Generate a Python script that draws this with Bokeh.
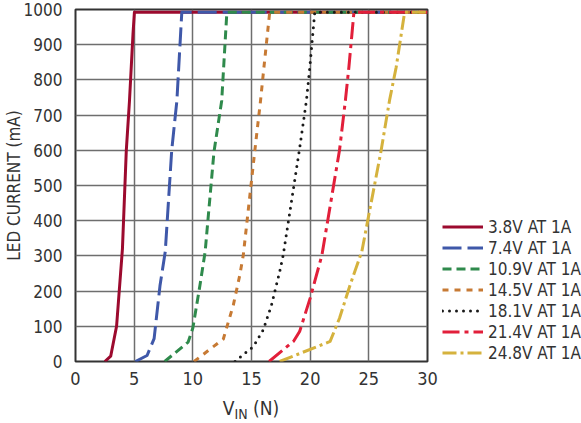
from bokeh.plotting import figure
from bokeh.models import Legend, LegendItem, Range1d, FixedTicker, Div
from bokeh.layouts import column, row
from bokeh.embed import file_html
from bokeh.resources import INLINE

FONT = "'DejaVu Sans Condensed', 'Liberation Sans', sans-serif"

labels = ["3.8V AT 1A", "7.4V AT 1A", "10.9V AT 1A", "14.5V AT 1A",
          "18.1V AT 1A", "21.4V AT 1A", "24.8V AT 1A"]

x_38 = [2.5, 3.0, 3.5, 4.0, 4.33, 4.6, 4.9, 5.02, 30]
y_38 = [0, 15, 100, 320, 600, 740, 930, 992, 992]

x_74 = [5.1, 6.1, 6.7, 7.2, 7.65, 8.2, 8.64, 9.06, 30]
y_74 = [0, 17, 65, 215, 312, 600, 741, 992, 992]

x_109 = [7.6, 9.6, 10.0, 10.6, 11.05, 11.8, 12.46, 12.9, 30]
y_109 = [0, 55, 95, 215, 312, 595, 741, 992, 992]

x_145 = [10.1, 12.6, 13.45, 14.0, 14.3, 15.3, 15.77, 16.06, 16.55, 30]
y_145 = [0, 64, 160, 245, 302, 604, 741, 836, 992, 992]

x_181 = [13.6, 14.2, 15.15, 16.0, 16.7, 17.4, 17.7, 19.1, 19.68, 19.97, 20.39, 30]
y_181 = [0, 17, 42, 90, 160, 255, 302, 605, 741, 836, 992, 992]

x_214 = [16.5, 18.6, 19.1, 20.0, 21.0, 22.5, 23.0, 23.3, 23.73, 30]
y_214 = [0, 58, 85, 180, 302, 600, 741, 836, 992, 992]

x_248 = [17.4, 21.7, 22.5, 23.4, 24.4, 26.05, 26.76, 27.33, 28.05, 30]
y_248 = [0, 57, 123, 217, 312, 600, 741, 836, 992, 992]

xs = [x_38, x_74, x_109, x_145, x_181, x_214, x_248]
ys = [y_38, y_74, y_109, y_145, y_181, y_214, y_248]
colors = ["#9c0a2e", "#3f58a9", "#2f8a4c", "#c77a34", "#1a1a1a", "#e21f3a", "#d5b23d"]
dashes = ["solid", "19 6", "9 5", "6 6", "0 7", "17 5 4 5", "14 4 3 4"]

x_ticks = [0, 5, 10, 15, 20, 25, 30]
y_ticks = [0, 100, 200, 300, 400, 500, 600, 700, 800, 900, 1000]

p = figure(width=440, height=397, output_backend="svg", toolbar_location=None,
           x_range=Range1d(0, 30), y_range=Range1d(0, 1000),
           min_border_left=75, min_border_right=13, min_border_top=9, min_border_bottom=36)
p.background_fill_color = "white"
p.border_fill_color = "white"
p.outline_line_color = "#333333"
p.outline_line_width = 2

for ax, ticks in ((p.xaxis[0], x_ticks), (p.yaxis[0], y_ticks)):
    ax.ticker = FixedTicker(ticks=ticks)
    ax.axis_line_color = None
    ax.major_tick_line_color = None
    ax.minor_tick_line_color = None
    ax.major_tick_in = 0
    ax.major_tick_out = 0
    ax.major_label_text_font = FONT
    ax.major_label_text_font_size = "17px"
    ax.major_label_text_color = "#333333"
p.xaxis[0].major_label_text_font_size = "18px"
p.xaxis[0].major_label_standoff = 10
p.yaxis[0].major_label_standoff = 13
p.yaxis[0].axis_label = "LED CURRENT (mA)"
p.yaxis[0].axis_label_text_font = FONT
p.yaxis[0].axis_label_text_font_size = "17px"
p.yaxis[0].axis_label_text_font_style = "normal"
p.yaxis[0].axis_label_text_color = "#333333"
p.yaxis[0].axis_label_standoff = -3

p.xgrid.ticker = FixedTicker(ticks=x_ticks)
p.ygrid.ticker = FixedTicker(ticks=y_ticks)
for g in (p.xgrid[0], p.ygrid[0]):
    g.grid_line_color = "#6e6e6e"
    g.grid_line_width = 1.5

# legend panel: a bare figure whose view shows none of the lines
pl = figure(width=141, height=397, output_backend="svg", toolbar_location=None,
            x_range=Range1d(-2, -1), y_range=Range1d(-2, -1),
            x_axis_type=None, y_axis_type=None,
            min_border_left=0, min_border_right=0, min_border_top=0, min_border_bottom=0)
pl.outline_line_color = None
pl.grid.visible = False

items = []
for lab, x, y, c, d in zip(labels, xs, ys, colors, dashes):
    style = dict(line_color=c, line_width=3, line_dash=d,
                 line_cap="round" if d == "0 7" else "butt", line_join="round")
    p.line(x, y, **style)
    r = pl.line(x, y, **style)
    items.append(LegendItem(label=lab, renderers=[r]))

legend = Legend(items=items, location=(2, -2), glyph_width=41, glyph_height=21,
                label_height=21, spacing=0, padding=0, margin=0, label_standoff=5,
                label_text_font=FONT, label_text_font_size="17px",
                label_text_color="#333333", border_line_color=None,
                background_fill_alpha=0)
pl.add_layout(legend, "center")

xlabel = Div(text="V<sub style='font-size:14px;vertical-align:-4px'>IN</sub> (N)",
             width=352, height=25, margin=(0, 0, 0, 75),
             styles={"font-family": FONT, "font-size": "19px", "color": "#333333",
                     "text-align": "center", "line-height": "22px"})

layout = column(row(p, pl, spacing=0), xlabel, spacing=0)
open("out.html", "w").write(file_html(layout, INLINE))
